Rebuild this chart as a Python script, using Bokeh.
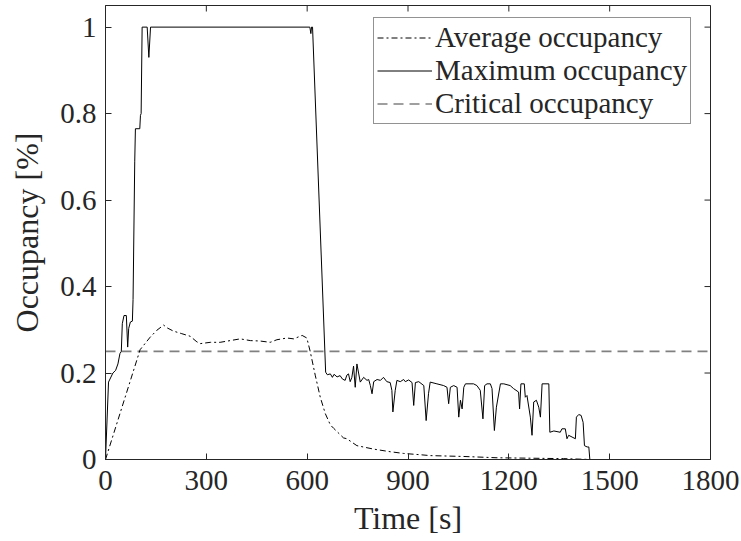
import math
from bokeh.plotting import figure
from bokeh.models import (Range1d, FixedTicker, Legend, LegendItem,
                          CustomJSTickFormatter, ColumnDataSource)
from bokeh.embed import file_html
from bokeh.resources import INLINE

# ---------------- data ----------------
max_t = [0, 9, 22, 30, 37, 43, 47, 50, 55, 62, 66, 69, 74, 80, 82, 87, 89, 102, 104, 106,
         109, 124, 129, 134, 608, 611, 613, 616,
         655, 660, 669, 675, 680, 689, 698, 705, 713, 718, 723, 728, 733, 738, 743, 748,
         753, 758, 768, 778, 783, 788, 793, 798, 808, 818, 827, 837, 847, 852, 855, 862,
         867, 877, 887, 892, 902, 912, 917, 922, 932, 947, 954, 961, 966, 986, 1006, 1016,
         1021, 1026, 1036, 1046, 1051, 1056, 1061, 1066, 1071, 1095, 1105, 1115, 1123,
         1128, 1135, 1145, 1150, 1157, 1163, 1175, 1185, 1204, 1214, 1229, 1232, 1236,
         1246, 1249, 1254, 1264, 1269, 1274, 1282, 1289, 1294, 1299, 1319, 1322, 1334,
         1353, 1358, 1368, 1373, 1378, 1388, 1398, 1401, 1408, 1415, 1421, 1425, 1433,
         1438, 1441]
max_v = [0, 0.179, 0.200, 0.206, 0.221, 0.245, 0.250, 0.314, 0.333, 0.333, 0.260, 0.303,
         0.318, 0.320, 0.370, 0.690, 0.765, 0.765, 0.796, 0.800,
         1.0, 1.0, 0.93, 1.0, 1.0, 0.985, 1.0, 1.0,
         0.202, 0.196, 0.198, 0.190, 0.197, 0.191, 0.194, 0.186, 0.183, 0.195, 0.198,
         0.180, 0.190, 0.216, 0.167, 0.221, 0.200, 0.179, 0.190, 0.183, 0.185, 0.171,
         0.152, 0.180, 0.185, 0.183, 0.190, 0.180, 0.178, 0.160, 0.110, 0.160,
         0.183, 0.180, 0.185, 0.180, 0.184, 0.178, 0.125, 0.178, 0.180, 0.171, 0.090,
         0.152, 0.179, 0.175, 0.171, 0.167,
         0.129, 0.167, 0.171, 0.167, 0.098, 0.137, 0.117, 0.167, 0.175, 0.175, 0.171,
         0.160, 0.094,
         0.171, 0.175, 0.175, 0.164, 0.067, 0.121, 0.175, 0.175, 0.171, 0.164, 0.156,
         0.117, 0.175,
         0.175, 0.144, 0.148, 0.098, 0.056, 0.133, 0.137, 0.121, 0.098, 0.175, 0.175,
         0.063, 0.066,
         0.063, 0.071, 0.071, 0.048, 0.056, 0.052, 0.048, 0.098, 0.104, 0.102, 0.086,
         0.032, 0.029, 0.029, 0.0]

avg_t = [0, 103, 133, 153, 173, 182, 202, 227, 252, 272, 282, 312, 341, 371, 401, 431,
         460, 490, 510, 540, 560, 585, 599, 609, 624, 639, 654, 669, 679, 708, 718, 748,
         798, 847, 887, 937, 966, 1066, 1165, 1264, 1363, 1445]
avg_v = [0, 0.254, 0.283, 0.299, 0.311, 0.305, 0.297, 0.291, 0.285, 0.272, 0.268, 0.271,
         0.271, 0.275, 0.279, 0.275, 0.274, 0.271, 0.277, 0.281, 0.279, 0.287, 0.281,
         0.250, 0.195, 0.144, 0.106, 0.080, 0.072, 0.050, 0.048, 0.032, 0.024, 0.018,
         0.014, 0.011, 0.009, 0.007, 0.004, 0.003, 0.002, 0.0]

crit_t = [0, 1800]
crit_v = [0.25, 0.25]

x_ticks = [0, 300, 600, 900, 1200, 1500, 1800]
y_ticks = [0, 0.2, 0.4, 0.6, 0.8, 1.0]

X_MAX = 1800
Y_MAX = 1.05

FONT = "Liberation Serif"
AX = "#262626"

p = figure(width=741, height=541, output_backend="svg", toolbar_location=None,
           x_range=Range1d(0, X_MAX), y_range=Range1d(0, Y_MAX),
           min_border_left=105, min_border_right=31, min_border_top=5,
           min_border_bottom=82, background_fill_color="white",
           border_fill_color="white")
p.grid.visible = False
p.outline_line_color = AX
p.outline_line_width = 1

xf = CustomJSTickFormatter(code="return String(Math.round(tick));")
yf = CustomJSTickFormatter(code="return String(Math.round(tick*10)/10);")

for ax in (p.xaxis[0], p.yaxis[0]):
    ax.axis_line_color = AX
    ax.major_tick_line_color = AX
    ax.major_tick_in = 6
    ax.major_tick_out = 0
    ax.minor_tick_line_color = None
    ax.major_label_text_font = FONT
    ax.major_label_text_color = "#262626"
    ax.major_label_text_font_size = "29px"
    ax.axis_label_text_font = FONT
    ax.axis_label_text_font_style = "normal"
    ax.axis_label_text_color = "#262626"
    ax.axis_label_text_font_size = "32px"

p.xaxis.ticker = FixedTicker(ticks=x_ticks)
p.yaxis.ticker = FixedTicker(ticks=y_ticks)
p.xaxis.formatter = xf
p.yaxis.formatter = yf
p.xaxis.axis_label = "Time [s]"
p.yaxis.axis_label = "Occupancy [%]"
p.xaxis.major_label_standoff = 11
p.yaxis.major_label_standoff = 9
p.xaxis.axis_label_standoff = 7
p.yaxis.axis_label_standoff = 12

# mirrored inward ticks on the top and right edges of the box
p.scatter(x=x_ticks, y=[Y_MAX] * len(x_ticks), marker="dash", size=12,
          angle=math.pi / 2, line_color=AX, line_width=1)
p.scatter(x=[X_MAX] * len(y_ticks), y=y_ticks, marker="dash", size=12,
          line_color=AX, line_width=1)

src_avg = ColumnDataSource(dict(t=avg_t, v=avg_v))
src_max = ColumnDataSource(dict(t=max_t, v=max_v))
src_crit = ColumnDataSource(dict(t=crit_t, v=crit_v))

r_crit = p.line("t", "v", source=src_crit, line_color="#808080", line_width=1.6,
                line_dash="10 6")
r_avg = p.line("t", "v", source=src_avg, line_color="black", line_width=1,
               line_dash="6 3 2 3")
r_max = p.line("t", "v", source=src_max, line_color="black", line_width=1)

legend = Legend(items=[
    LegendItem(label="Average occupancy", renderers=[r_avg]),
    LegendItem(label="Maximum occupancy", renderers=[r_max]),
    LegendItem(label="Critical occupancy", renderers=[r_crit]),
], location=(268, 335))
legend.label_text_font = FONT
legend.label_text_font_size = "29px"
legend.label_text_color = "#262626"
legend.border_line_color = AX
legend.border_line_width = 1
legend.background_fill_color = "white"
legend.background_fill_alpha = 1
legend.glyph_width = 55
legend.glyph_height = 33
legend.label_height = 33
legend.label_standoff = 3
legend.spacing = 0
legend.padding = 3
legend.margin = 0
p.add_layout(legend, "center")

open("out.html", "w").write(file_html(p, INLINE))
